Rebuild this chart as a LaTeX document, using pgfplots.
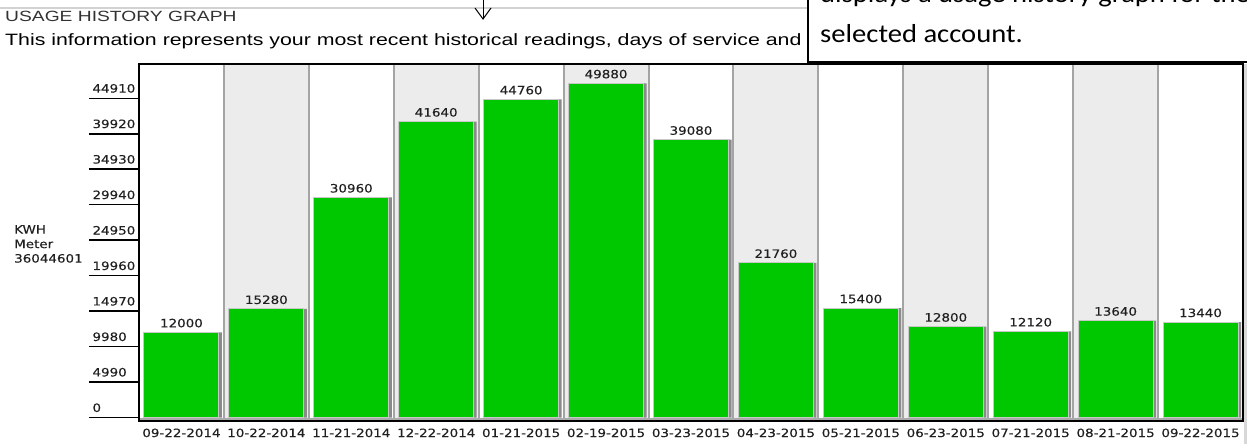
\documentclass[border=0pt]{standalone}
\usepackage{pgfplots}
\pgfplotsset{compat=1.18}
\usepackage{pgfplotstable}
\usepackage{fontspec}
\setmainfont{DejaVu Sans}
\newfontfamily\chartfont[FakeStretch=1.17, FakeBold=0.3]{DejaVu Sans}
\newfontfamily\headfont[FakeStretch=1.3]{Liberation Sans}
\newfontfamily\calloutfont[FakeStretch=1.1]{Carlito}
\definecolor{bargreen}{HTML}{00C800}
\definecolor{stripe}{HTML}{ECECEC}
\definecolor{divider}{HTML}{A4A4A4}
\definecolor{shadow}{HTML}{8A8A8A}
\definecolor{baredge}{HTML}{C8C8C8}
\definecolor{txt}{HTML}{202020}

% x = category index, h = drawn bar height, v = printed value
\pgfplotstableread{
x h v
0 12000 12000
1 15280 15280
2 30960 30960
3 41640 41640
4 44760 44760
5 47020 49880
6 39080 39080
7 21760 21760
8 15400 15400
9 12800 12800
10 12120 12120
11 13640 13640
12 13440 13440
}\usage

\begin{document}
\begin{tikzpicture}
\path[use as bounding box] (0,0) rectangle (1247pt,444pt);

% header
\draw[color={rgb,255:red,210;green,210;blue,210}, line width=1.5pt] (0pt,436pt) -- (808pt,436pt);
\node[anchor=base west, inner sep=0, font=\headfont\fontsize{14.8}{17}\selectfont, text={rgb,255:red,50;green,50;blue,50}] at (5pt,422pt) {USAGE HISTORY GRAPH};
\node[anchor=base west, inner sep=0, font=\headfont\fontsize{16.4}{19}\selectfont, text=black] at (5pt,398pt) {This information represents your most recent historical readings, days of service and};
\draw[black, line width=1pt] (483pt,446pt) -- (483pt,425pt);
\draw[black, line width=1pt] (475pt,436pt) -- (483pt,425pt) -- (491pt,436pt);

% callout box
\draw[black, line width=2pt, fill=white] (808pt,382pt) rectangle (1270pt,470pt);
\node[anchor=base west, inner sep=0, font=\calloutfont\fontsize{26}{32}\selectfont] at (820pt,441pt) {displays a usage history graph for the};
\node[anchor=base west, inner sep=0, font=\calloutfont\fontsize{26}{32}\selectfont] at (820pt,401pt) {selected account.};

% right edge strip
\fill[color={rgb,255:red,216;green,216;blue,216}] (1244pt,0pt) rectangle (1247pt,380pt);

% y label
\node[anchor=north west, inner sep=0, align=left, font=\chartfont\fontsize{11.5}{14.5}\selectfont, text=txt] at (14pt,219pt) {KWH\\Meter\\36044601};

\begin{axis}[
  at={(139pt,23pt)}, anchor=south west,
  scale only axis, width=1104pt, height=357pt,
  xmin=-0.5, xmax=12.5, ymin=-478, ymax=49733,
  axis on top,
  scaled y ticks=false,
  axis line style={black, line width=2pt},
  xtick={0,1,2,3,4,5,6,7,8,9,10,11,12},
  xticklabels={09-22-2014,10-22-2014,11-21-2014,12-22-2014,01-21-2015,02-19-2015,03-23-2015,04-23-2015,05-21-2015,06-23-2015,07-21-2015,08-21-2015,09-22-2015},
  xtick style={draw=none},
  xticklabel style={font=\chartfont\fontsize{11.5}{13}\selectfont, text=txt, yshift=-4pt},
  ytick={0,4990,9980,14970,19960,24950,29940,34930,39920,44910},
  yticklabels={0,4990,9980,14970,19960,24950,29940,34930,39920,44910},
  ytick pos=left,
  tick align=inside,
  major tick length=50pt,
  ytick style={black, line width=1.5pt, xshift=-50pt},
  yticklabel style={anchor=south west, xshift=-50pt, yshift=2pt, font=\chartfont\fontsize{11.5}{13}\selectfont, text=txt},
  clip=false,
]
% alternating column backgrounds
\fill[stripe] (axis cs:0.5,-478) rectangle (axis cs:1.5,49733);
\fill[stripe] (axis cs:2.5,-478) rectangle (axis cs:3.5,49733);
\fill[stripe] (axis cs:4.5,-478) rectangle (axis cs:5.5,49733);
\fill[stripe] (axis cs:6.5,-478) rectangle (axis cs:7.5,49733);
\fill[stripe] (axis cs:8.5,-478) rectangle (axis cs:9.5,49733);
\fill[stripe] (axis cs:10.5,-478) rectangle (axis cs:11.5,49733);
% column dividers
\pgfplotsinvokeforeach{0.5,1.5,2.5,3.5,4.5,5.5,6.5,7.5,8.5,9.5,10.5,11.5}{
  \draw[divider, line width=2pt] (axis cs:#1,-478) -- (axis cs:#1,49733);
}
\draw[color={rgb,255:red,170;green,170;blue,170}, line width=2.4pt] (axis cs:-0.5,-170) -- (axis cs:12.5,-170);

% bar shadows
\addplot[ybar, bar width=78pt, bar shift=1.5pt, fill=shadow, draw=none] table[x=x, y=h] {\usage};
% bars
\addplot[ybar, bar width=75pt, bar shift=0pt, fill=bargreen, draw=baredge, line width=1pt,
  point meta=explicit symbolic,
  nodes near coords,
  every node near coord/.append style={font=\chartfont\fontsize{11.5}{13}\selectfont, text=txt, anchor=south, yshift=1pt}]
  table[x=x, y=h, meta=v] {\usage};
\end{axis}
\end{tikzpicture}
\end{document}
